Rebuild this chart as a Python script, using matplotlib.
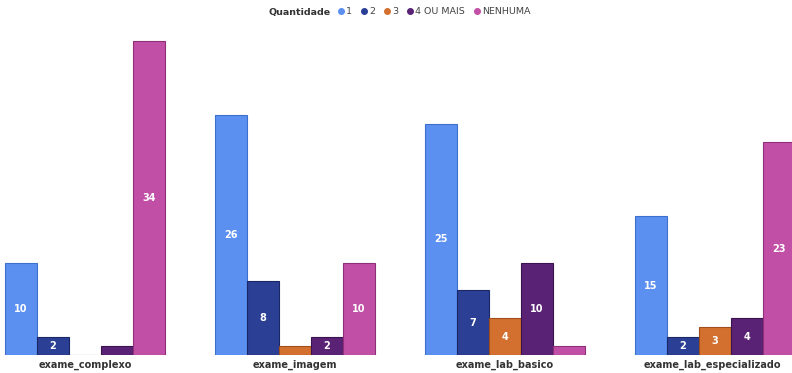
import numpy as np
import matplotlib.pyplot as plt
from matplotlib.lines import Line2D

exames = ['exame_complexo', 'exame_imagem', 'exame_lab_basico', 'exame_lab_especializado']
quantidades = ['1', '2', '3', '4 OU MAIS', 'NENHUMA']
q1 = [10, 26, 25, 15]
q2 = [2, 8, 7, 2]
q3 = [0, 1, 4, 3]
q4 = [1, 2, 10, 4]
nenhuma = [34, 10, 1, 23]

cores = ['#5b8ff0', '#2b3f95', '#d3702f', '#5a2275', '#c24fa6']
bordas = ['#3d6fcc', '#1a2766', '#a04f1c', '#3a1250', '#8f2f78']


def plot_graph():
    fig = plt.figure(figsize=(7.92, 3.73), dpi=100)
    ax = fig.add_axes([0, 18 / 373, 1, 325 / 373])
    series = [q1, q2, q3, q4, nenhuma]
    x = np.arange(len(exames))
    w = 32 / 210
    for i, vals in enumerate(series):
        pos = x + (i - 2) * w
        bars = ax.bar(pos, vals, w, color=cores[i], edgecolor=bordas[i], linewidth=0.8)
        for b, v in zip(bars, vals):
            if v >= 2:
                ax.text(b.get_x() + w / 2, v / 2, str(v), ha='center', va='center',
                        color='white', fontsize=7, fontweight='bold')
    ax.set_xlim(-85 / 210, 3 + 77 / 210)
    ax.set_ylim(0, 325 / 9.24)
    ax.axis('off')
    for xi, nome in zip(x, exames):
        fig.text((85 + 210 * xi - 3 * (xi == 3)) / 792, 1 - 365 / 373, nome, ha='center',
                 va='center', fontsize=7, fontweight='bold', color='#333333')

    fig.text(300 / 792, 1 - 12 / 373, 'Quantidade', ha='center', va='center',
             fontsize=6.8, fontweight='bold', color='#333333')
    handles = [Line2D([], [], marker='o', linestyle='', color=c, markersize=4) for c in cores]
    fig.legend(handles, quantidades, loc='center', bbox_to_anchor=(434 / 792, 1 - 12 / 373),
               ncol=5, frameon=False, fontsize=6.8, handletextpad=0.1, columnspacing=0.9,
               handlelength=0.8, labelcolor='#444444')
    fig.savefig('out.png', dpi=100)


def main():
    plot_graph()


main()
